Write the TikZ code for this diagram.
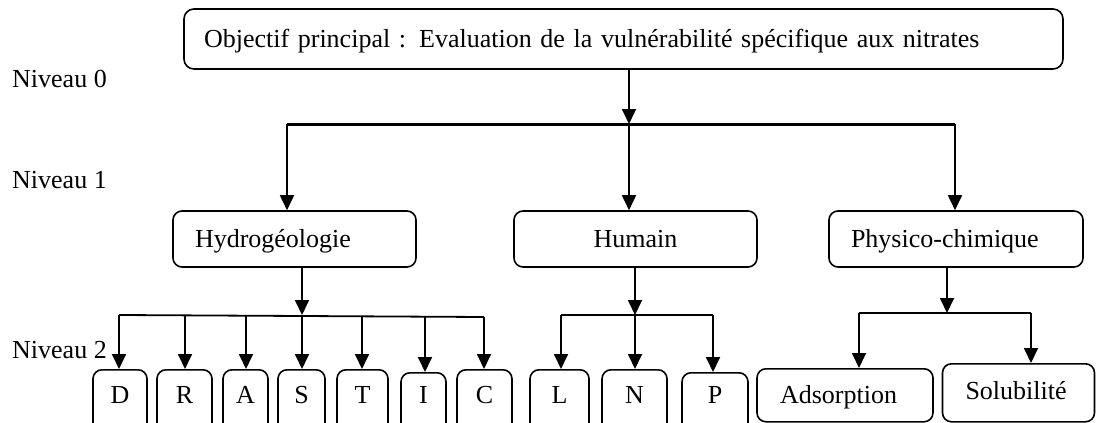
\documentclass[tikz,border=0pt]{standalone}
\usepackage{fontspec}
\setmainfont{Liberation Serif}
\usetikzlibrary{arrows.meta}
\begin{document}
\begin{tikzpicture}[x=1pt,y=-1pt,
  every node/.style={font=\fontsize{26}{30}\selectfont, inner sep=0pt},
  rbox/.style={draw, line width=1.6pt, rounded corners=9pt, text height=20pt, text depth=3pt},
  tbox/.style={rbox, align=left, text width=#1},
  conn/.style={line width=1.8pt},
  arr/.style={conn, -{Triangle[length=15pt,width=14pt]}},
  thickbar/.style={line width=3pt},
  lvl/.style={anchor=base west},
  letter/.style={anchor=base}
]
\useasboundingbox (0,0) rectangle (1096,423);
\clip (0,0) rectangle (1096,423);
\fill[white] (0,0) rectangle (1096,423);

% level labels
\node[lvl] (n0) at (12,87) {Niveau 0};
\node[lvl] (n1) at (12,188) {Niveau 1};
\node[lvl] (n2) at (12,358) {Niveau 2};

% top box (184-1063, 9-69)
\node[tbox=839pt, inner xsep=20pt, minimum height=60, rounded corners=10pt] (top) at (623.5,39) {Objectif principal : Evaluation de la vulnérabilité spécifique aux nitrates};

% level 1 boxes
\node[tbox=199pt, inner xsep=22pt, minimum height=56] (hyd) at (294.5,239) {Hydrogéologie};
\node[rbox, minimum width=243, minimum height=56] (hum) at (635.5,239) {Humain};
\node[tbox=210pt, inner xsep=22pt, minimum height=56] (phy) at (956,239) {Physico-chimique};

% top connectors
\coordinate (b0) at (629,124);
\coordinate (b1) at (287,124);
\coordinate (b3) at (955,124);
\draw[arr] (top.south -| b0) -- (b0);
\draw[thickbar] (b1) -- (b3);
\draw[arr] (b1) -- (b1 |- hyd.north);
\draw[arr] (b0) -- (b0 |- hum.north);
\draw[arr] (b3) -- (b3 |- phy.north);

% letter boxes (Hydrogeologie)
\foreach \nm/\cx/\w/\tp in {D/120/54/369, R/184.5/55/369, A/245.5/45/369, S/301.5/47/369, T/362.5/51/369, I/423.5/45/372, C/484.5/55/369}{
  \node[rbox, minimum width=\w, minimum height=80, anchor=north] (\nm) at (\cx,\tp) {};
  \node[letter] (t\nm) at (\cx,403) {\nm};
}
% Humain boxes
\foreach \nm/\cx/\w/\tp in {L/559.5/59/369, N/634.5/65/369, P/715/66/372}{
  \node[rbox, minimum width=\w, minimum height=80, anchor=north] (\nm) at (\cx,\tp) {};
  \node[letter] (t\nm) at (\cx,403) {\nm};
}

% Physico boxes
\node[tbox=130pt, inner xsep=23pt, minimum height=53, anchor=north] (ads) at (845,368) {Adsorption};
\node[tbox=106pt, inner xsep=23pt, minimum height=58, anchor=north] (sol) at (1018.5,363) {\raisebox{2pt}{Solubilité}};

% Hydro connectors
\coordinate (h0) at (302,315);
\coordinate (hl) at (119,315);
\coordinate (hr) at (484,317);
\draw[arr] (hyd.south -| h0) -- (h0);
\draw[conn] (hl) -- (hr);
\foreach \nm/\xx in {D/119, R/185, A/246, S/302, T/362, I/425, C/484}{
  \coordinate (ax\nm) at (\xx,{315+2*(\xx-119)/365});
  \draw[arr] (ax\nm) -- (ax\nm |- \nm.north);
}

% Humain connectors
\coordinate (u0) at (635,315);
\coordinate (ul) at (561,315);
\coordinate (ur) at (713,315);
\draw[arr] (hum.south -| u0) -- (u0);
\draw[conn] (ul) -- (ur);
\draw[arr] (ul) -- (ul |- L.north);
\draw[arr] (u0) -- (u0 |- N.north);
\draw[arr] (ur) -- (ur |- P.north);

% Physico connectors
\coordinate (p0) at (947,313);
\coordinate (pl) at (859,313);
\coordinate (pr) at (1031,313);
\draw[arr] (phy.south -| p0) -- (p0);
\draw[conn] (pl) -- (pr);
\draw[arr] (pl) -- (pl |- ads.north);
\draw[arr] (pr) -- (pr |- sol.north);
\end{tikzpicture}
\end{document}
